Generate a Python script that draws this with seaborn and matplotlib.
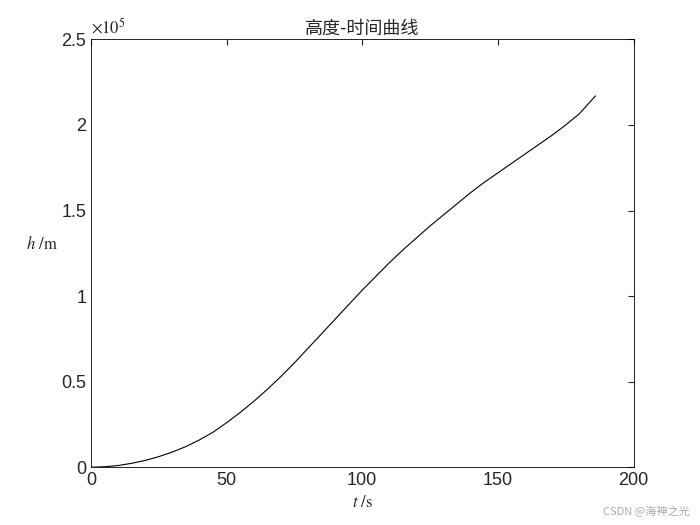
import matplotlib
matplotlib.use("Agg")
import matplotlib.pyplot as plt
import matplotlib.ticker as mticker
import seaborn as sns
import pandas as pd

# values
t = [0, 5, 10, 15, 20, 25, 30, 35, 40, 45, 50, 55, 60, 65, 70, 75, 80, 85, 90, 95,
     100, 105, 110, 115, 120, 125, 130, 135, 140, 145, 150, 155, 160, 165, 170, 175, 180, 186]
h = [0, 300, 1000, 2300, 4000, 6200, 8900, 12100, 16000, 20500, 26000, 32000, 38500, 45500,
     53000, 61000, 69500, 78000, 86500, 95000, 103500, 111500, 119500, 127000, 134000, 141000,
     147500, 154000, 160500, 166500, 172000, 177500, 183000, 188500, 194000, 200000, 206500, 217000]

df = pd.DataFrame({"t": t, "h": h})

sns.set_style("white")
plt.rcParams['font.family'] = ['Liberation Sans', 'Noto Sans CJK SC', 'DejaVu Sans']
plt.rcParams['mathtext.fontset'] = 'stix'

fig = plt.figure(figsize=(7, 5.25), dpi=100)
ax = fig.add_axes([0.13, 0.11, 0.775, 0.815])
sns.lineplot(data=df, x="t", y="h", ax=ax, color="black", linewidth=0.8)

ax.set_xlim(0, 200)
ax.set_ylim(0, 2.5e5)
ax.set_xticks([0, 50, 100, 150, 200])
ax.set_yticks([0, 0.5e5, 1e5, 1.5e5, 2e5, 2.5e5])
ax.yaxis.set_major_formatter(mticker.FuncFormatter(lambda v, p: f"{v / 1e5:g}"))
ax.text(0.0, 1.005, r"$\times10^5$", transform=ax.transAxes, fontsize=12,
        ha="left", va="bottom", family="DejaVu Sans")
ax.tick_params(direction="in", labelsize=13, top=True, right=True, length=4)
for s in ax.spines.values():
    s.set_linewidth(0.6)
    s.set_color("black")

ax.set_xlabel(r"$\it{t}$ /s", fontsize=12, family="STIXGeneral")
ax.set_ylabel(r"$\it{h}$ /m", fontsize=12, family="STIXGeneral", rotation=0, labelpad=14)
ax.set_title("高度-时间曲线", fontsize=13, pad=4, family=['Noto Sans CJK SC', 'DejaVu Sans'])
fig.text(0.985, 0.015, "CSDN @海神之光", ha="right", va="bottom", fontsize=8, color="#aaaaaa",
         family=['Noto Sans CJK SC', 'DejaVu Sans'])

fig.savefig("out.png", dpi=100)
